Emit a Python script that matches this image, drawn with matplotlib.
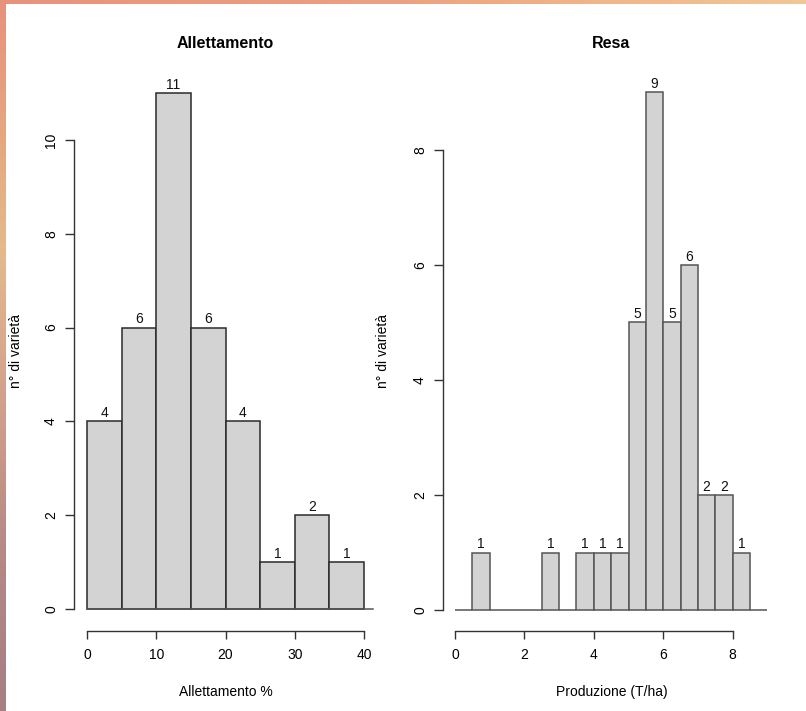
import numpy as np
import matplotlib
matplotlib.use("Agg")
import matplotlib.pyplot as plt

plt.rcParams['font.family'] = ['Liberation Sans', 'DejaVu Sans']

# Allettamento histogram (breaks every 5 %)
allet_edges = [0, 5, 10, 15, 20, 25, 30, 35, 40]
allet_counts = [4, 6, 11, 6, 4, 1, 2, 1]

# Resa histogram (breaks every 0.5 T/ha)
resa_edges = [0, 0.5, 1, 1.5, 2, 2.5, 3, 3.5, 4, 4.5, 5, 5.5, 6, 6.5, 7, 7.5, 8, 8.5, 9]
resa_counts = [0, 1, 0, 0, 0, 1, 0, 1, 1, 1, 5, 9, 5, 6, 2, 2, 1, 0]

W, H = 806, 711
fig = plt.figure(figsize=(W / 100, H / 100), dpi=100)
fig.patch.set_facecolor('white')


def px_axes(x0, x1, y0, y1):
    return fig.add_axes([x0 / W, 1 - y1 / H, (x1 - x0) / W, (y1 - y0) / H])


def ftext(x, y, s, **kw):
    fig.text(x / W, 1 - y / H, s, ha='center', va='center', **kw)


# decorative border strips (top and left)
def strip(ax, stops, n, vertical):
    pos = np.linspace(0, 1, n)
    rgb = np.array([[np.interp(p, [s[0] for s in stops], [s[1][i] for s in stops]) for i in range(3)]
                    for p in pos]) / 255
    img = rgb[:, None, :] if vertical else rgb[None, :, :]
    ax.imshow(img, aspect='auto', interpolation='bilinear')
    ax.set_axis_off()


top_stops = [(0, (232, 146, 124)), (0.5, (236, 162, 128)), (0.75, (240, 182, 140)), (1, (242, 198, 152))]
left_stops = [(0, (232, 146, 124)), (0.2, (230, 168, 128)), (0.35, (228, 186, 140)),
              (0.55, (212, 162, 140)), (0.78, (182, 136, 134)), (1, (166, 126, 132))]
strip(fig.add_axes([0, 1 - 4 / H, 1, 4 / H]), top_stops, 200, False)
strip(fig.add_axes([0, 0, 6 / W, 1]), left_stops, 200, True)

axis_col = '#333333'


def hist_panel(ax, edges, counts, xticks, yticks, edgecol):
    edges = np.array(edges, dtype=float)
    ax.bar(edges[:-1], counts, width=np.diff(edges), align='edge',
           color='#d3d3d3', edgecolor=edgecol, linewidth=1.1)
    for x, c in zip((edges[:-1] + edges[1:]) / 2, counts):
        if c > 0:
            ax.annotate(str(c), (x, c), xytext=(0, 3.2), textcoords='offset points',
                        ha='center', va='baseline', fontsize=10, color='#111111')
    for s in ['top', 'right']:
        ax.spines[s].set_visible(False)
    ax.spines['left'].set_bounds(yticks[0], yticks[-1])
    ax.spines['bottom'].set_bounds(xticks[0], xticks[-1])
    for s in ['left', 'bottom']:
        ax.spines[s].set_color(axis_col)
        ax.spines[s].set_linewidth(1.0)
    ax.set_xticks(xticks)
    ax.set_yticks(yticks)
    ax.tick_params(axis='x', direction='out', length=5.8, width=1.0, color=axis_col,
                   labelsize=10, pad=7)
    ax.tick_params(axis='y', direction='out', length=6.5, width=1.0, color=axis_col,
                   labelsize=10, pad=5, labelrotation=90)
    for lab in ax.get_yticklabels():
        lab.set_va('center')
    ax.set_facecolor('none')


# left panel: Allettamento
ax1 = px_axes(74, 377, 72.5, 630.7)
ax1.set_xlim(-13 / 6.925, 40 + 13 / 6.925)
ax1.set_ylim(-(630.7 - 609) / 46.9, (609 - 72.5) / 46.9)
hist_panel(ax1, allet_edges, allet_counts, [0, 10, 20, 30, 40], [0, 2, 4, 6, 8, 10], '#2a2a2a')
ax1.plot([0, 41.3], [0, 0], color='#555555', lw=1.1, zorder=1)

# right panel: Resa
ax2 = px_axes(443, 780, 72, 630.7)
ax2.set_xlim(-12 / 34.71, 8 + 47.3 / 34.71)
ax2.set_ylim(-(630.7 - 610) / 57.5, (610 - 72) / 57.5)
hist_panel(ax2, resa_edges, resa_counts, [0, 2, 4, 6, 8], [0, 2, 4, 6, 8], '#555555')

# titles and axis labels
ftext(225.5, 44, 'Allettamento', fontsize=11.5, fontweight='bold')
ftext(611.5, 44, 'Resa', fontsize=11.5, fontweight='bold')
ftext(225.5, 692, 'Allettamento %', fontsize=10)
ftext(611.5, 692, 'Produzione (T/ha)', fontsize=10)
ftext(16, 351, 'n° di varietà', fontsize=10, rotation=90)
ftext(383, 351, 'n° di varietà', fontsize=10, rotation=90)

fig.savefig('out.png', dpi=100)
